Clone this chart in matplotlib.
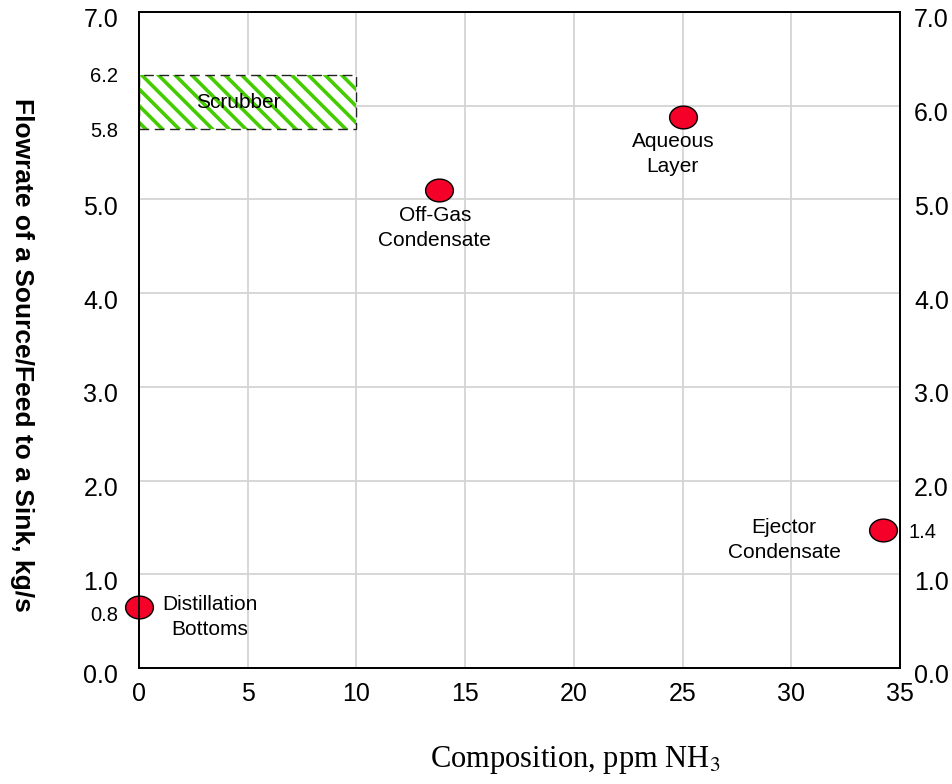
import matplotlib
matplotlib.use("Agg")
import matplotlib.pyplot as plt
import matplotlib.transforms as mtrans
import numpy as np
from matplotlib.path import Path
from matplotlib.patches import Rectangle

plt.rcParams['font.family'] = ['Liberation Sans', 'DejaVu Sans']
plt.rcParams['hatch.linewidth'] = 2.6

# sources / sinks
streams = ["Distillation\nBottoms", "Off-Gas\nCondensate", "Aqueous\nLayer", "Ejector\nCondensate"]
comp = [0.0, 13.8, 25.0, 34.2]      # ppm NH3
flow = [0.65, 5.1, 5.88, 1.47]      # kg/s (position on the drawing)
label_off = [(51, -7), (-3, -27), (-7, -27), (-71, -7)]   # offset points of the labels

# scrubber (sink) range
scrub_comp = [0.0, 10.0]
scrub_flow = [5.75, 6.33]

left_major = [0, 1, 2, 3, 4, 5, 6, 7]
left_major_lbl = ["0.0", "1.0", "2.0", "3.0", "4.0", "5.0", "", "7.0"]
left_minor = [flow[0], scrub_flow[0], scrub_flow[1]]
left_minor_lbl = ["0.8", "5.8", "6.2"]
right_major = [0, 1, 2, 3, 4, 5, 6, 7]
right_major_lbl = ["0.0", "1.0", "2.0", "3.0", "4.0", "5.0", "6.0", "7.0"]
right_minor = [flow[3]]
right_minor_lbl = ["1.4"]

fig = plt.figure(figsize=(9.53, 7.84), dpi=100)
ax = fig.add_axes([0.1459, 0.148, 0.7985, 0.8367])

ax.set_xlim(0, 35)
ax.set_ylim(0, 7)
ax.set_xticks(np.arange(0, 36, 5))
ax.set_yticks(left_major)
ax.set_yticklabels(left_major_lbl)
ax.set_yticks(left_minor, minor=True)
ax.set_yticklabels(left_minor_lbl, minor=True)
ax.grid(True, which='major', color='#d4d4d4', linewidth=1.3)
ax.set_axisbelow(True)
ax.tick_params(axis='both', which='both', length=0)
ax.tick_params(axis='x', labelsize=18, pad=10)
ax.tick_params(axis='y', which='major', labelsize=18, pad=15)
ax.tick_params(axis='y', which='minor', labelsize=14.5, pad=15)
for s in ax.spines.values():
    s.set_color('black')
    s.set_linewidth(1.3)

ax2 = ax.twinx()
ax2.set_ylim(0, 7)
ax2.set_yticks(right_major)
ax2.set_yticklabels(right_major_lbl)
ax2.set_yticks(right_minor, minor=True)
ax2.set_yticklabels(right_minor_lbl, minor=True)
ax2.tick_params(axis='y', which='both', length=0)
ax2.tick_params(axis='y', which='major', labelsize=18, pad=10)
ax2.tick_params(axis='y', which='minor', labelsize=14.5, pad=6)
for s in ax2.spines.values():
    s.set_linewidth(1.3)

# integer labels sit a little below their grid lines in the original
shift = mtrans.ScaledTranslation(0, -6 / 100, fig.dpi_scale_trans)
for lab in ax.get_yticklabels() + ax2.get_yticklabels() + [ax.get_yticklabels(minor=True)[0]]:
    lab.set_transform(lab.get_transform() + shift)

# scrubber box: green hatch + dashed black outline
ax.add_patch(Rectangle((scrub_comp[0], scrub_flow[0]), scrub_comp[1] - scrub_comp[0],
                       scrub_flow[1] - scrub_flow[0], facecolor='white',
                       edgecolor='#44cc00', hatch='\\\\', linewidth=0, zorder=2))
ax.add_patch(Rectangle((scrub_comp[0], scrub_flow[0]), scrub_comp[1] - scrub_comp[0],
                       scrub_flow[1] - scrub_flow[0], facecolor='none',
                       edgecolor='#222222', linestyle=(0, (7, 4)), linewidth=1.0, zorder=3))
ax.text(4.55, 6.03, "Scrubber", ha='center', va='center', fontsize=15, zorder=4)

# elliptical marker
t = np.linspace(0, 2 * np.pi, 60)
ell = Path(np.column_stack([1.22 * np.cos(t), np.sin(t)]))
ax.plot(comp, flow, linestyle='none', marker=ell, markersize=20,
        markerfacecolor='#f50028', markeredgecolor='black', markeredgewidth=1.0,
        zorder=5, clip_on=False)

for name, x, y, off in zip(streams, comp, flow, label_off):
    ax.annotate(name, (x, y), xytext=off, textcoords='offset points',
                ha='center', va='center', fontsize=15, linespacing=1.4, zorder=6)

fig.text(0.023, 0.547, "Flowrate of a Source/Feed to a Sink, kg/s", rotation=270,
         ha='center', va='center', fontsize=19, fontweight='bold')
fig.text(0.604, 0.031, "Composition, ppm NH$_3$", ha='center', va='center',
         fontsize=22, family='Liberation Serif', math_fontfamily='stix')

fig.savefig("out.png", dpi=100)
